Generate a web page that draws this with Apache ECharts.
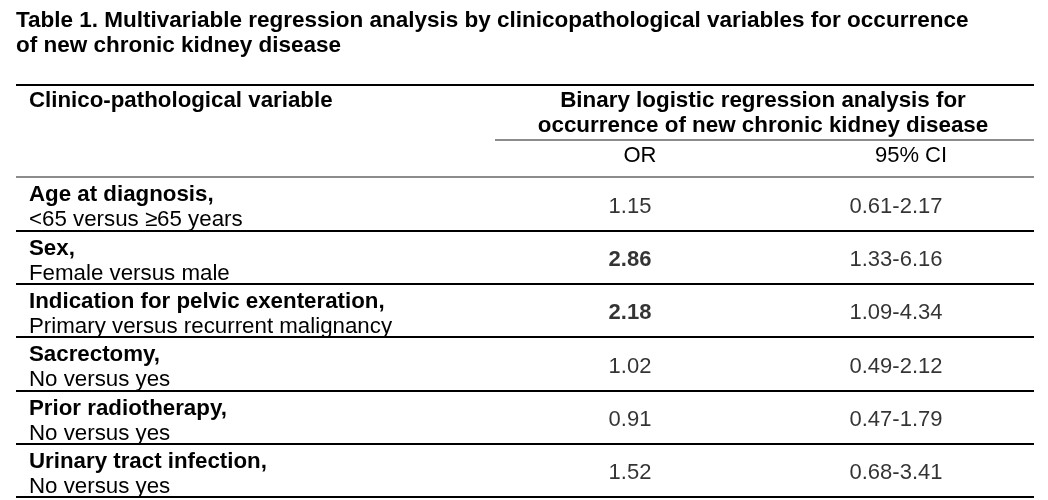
<!DOCTYPE html>
<html>
<head>
<meta charset="utf-8">
<title>Table 1</title>
<script src="https://cdn.jsdelivr.net/npm/echarts@6/dist/echarts.min.js"></script>
<style>
  html, body { margin: 0; padding: 0; background: #fff; }
  #chart { width: 1048px; height: 500px; }
</style>
</head>
<body>
<div id="chart"></div>
<script>
// table data
const variables = [
  'Age at diagnosis,',
  'Sex,',
  'Indication for pelvic exenteration,',
  'Sacrectomy,',
  'Prior radiotherapy,',
  'Urinary tract infection,'
]
const comparisons = [
  '<65 versus ≥65 years',
  'Female versus male',
  'Primary versus recurrent malignancy',
  'No versus yes',
  'No versus yes',
  'No versus yes'
]
const oddsRatio = [1.15, 2.86, 2.18, 1.02, 0.91, 1.52]
const ciLow = [0.61, 1.33, 1.09, 0.49, 0.47, 0.68]
const ciHigh = [2.17, 6.16, 4.34, 2.12, 1.79, 3.41]
const columns = ['OR', '95% CI']

const FONT = '"Liberation Sans", Arial, Helvetica, sans-serif'
const GREY = '#8c8c8c'

const chart = echarts.init(document.getElementById('chart'), null, { renderer: 'canvas' })

// significant when the CI does not include 1
const isSig = i => ciLow[i] > 1

const cellLabel = (txt, bold) => ({
  show: true,
  position: 'inside',
  offset: [0, 3],
  formatter: txt,
  color: '#000',
  fontFamily: FONT,
  fontSize: 22,
  fontWeight: bold ? 'bold' : 'normal'
})

const option = {
  backgroundColor: '#fff',
  animation: false,
  title: [
    {
      text: 'Table 1. Multivariable regression analysis by clinicopathological variables for occurrence\nof new chronic kidney disease',
      left: 16,
      top: 8,
      padding: 0,
      textStyle: { fontFamily: FONT, fontSize: 22.5, fontWeight: 'bold', lineHeight: 25, color: '#000' }
    },
    {
      text: 'Clinico-pathological variable',
      left: 29,
      top: 88,
      padding: 0,
      textStyle: { fontFamily: FONT, fontSize: 22.3, fontWeight: 'bold', lineHeight: 25, color: '#000' }
    }
  ],
  graphic: [
    // top rule and the rule under the spanning header
    { type: 'line', shape: { x1: 16, y1: 85, x2: 1034, y2: 85 }, style: { stroke: '#000', lineWidth: 2 } },
    { type: 'line', shape: { x1: 495, y1: 140, x2: 1034, y2: 140 }, style: { stroke: GREY, lineWidth: 2 } }
  ],
  grid: [
    { left: 16, right: 14, top: 177, bottom: 3 },
    { left: 497, right: 19, top: 177, bottom: 3 }
  ],
  xAxis: [
    { type: 'value', gridIndex: 0, show: false },
    {
      type: 'category',
      gridIndex: 1,
      position: 'top',
      data: columns,
      axisLine: { show: false },
      axisTick: { show: false },
      splitLine: { show: false },
      axisLabel: {
        margin: 10,
        color: '#000',
        fontFamily: FONT,
        fontSize: 22,
        formatter: v => v === 'OR' ? '{a|' + v + '}' : '{b|' + v + '}',
        rich: {
          a: { fontFamily: FONT, fontSize: 22, color: '#000', padding: [0, 0, 0, 20] },
          b: { fontFamily: FONT, fontSize: 22, color: '#000', padding: [0, 0, 0, 30] }
        }
      },
      name: 'Binary logistic regression analysis for\noccurrence of new chronic kidney disease',
      nameLocation: 'middle',
      nameGap: 39,
      nameTextStyle: { fontFamily: FONT, fontSize: 22.4, fontWeight: 'bold', lineHeight: 25, color: '#000' }
    }
  ],
  yAxis: [
    {
      type: 'category',
      gridIndex: 0,
      data: variables,
      inverse: true,
      axisLine: { show: false },
      axisTick: { show: false },
      splitLine: {
        show: true,
        lineStyle: { color: [GREY, '#000', '#000', '#000', '#000', '#000', '#000'], width: 2 }
      },
      axisLabel: {
        inside: true,
        margin: 13,
        align: 'left',
        padding: [8, 0, 0, 0],
        formatter: (v, i) => '{b|' + v + '}\n{n|' + comparisons[i] + '}',
        rich: {
          b: { fontFamily: FONT, fontSize: 22.3, fontWeight: 'bold', lineHeight: 25, color: '#000' },
          n: { fontFamily: FONT, fontSize: 22.3, lineHeight: 25, color: '#000' }
        }
      }
    },
    { type: 'category', gridIndex: 1, data: variables, inverse: true, show: false }
  ],
  series: [
    {
      name: 'OR',
      type: 'scatter',
      xAxisIndex: 1,
      yAxisIndex: 1,
      symbolSize: 0,
      silent: true,
      data: oddsRatio.map((v, i) => ({
        value: [columns[0], variables[i]],
        label: cellLabel(v.toFixed(2), isSig(i))
      }))
    },
    {
      name: '95% CI',
      type: 'scatter',
      xAxisIndex: 1,
      yAxisIndex: 1,
      symbolSize: 0,
      silent: true,
      data: ciLow.map((lo, i) => ({
        value: [columns[1], variables[i]],
        label: cellLabel(lo.toFixed(2) + '-' + ciHigh[i].toFixed(2), false)
      }))
    }
  ]
}

chart.setOption(option)
window.addEventListener('resize', () => chart.resize())
</script>
</body>
</html>
